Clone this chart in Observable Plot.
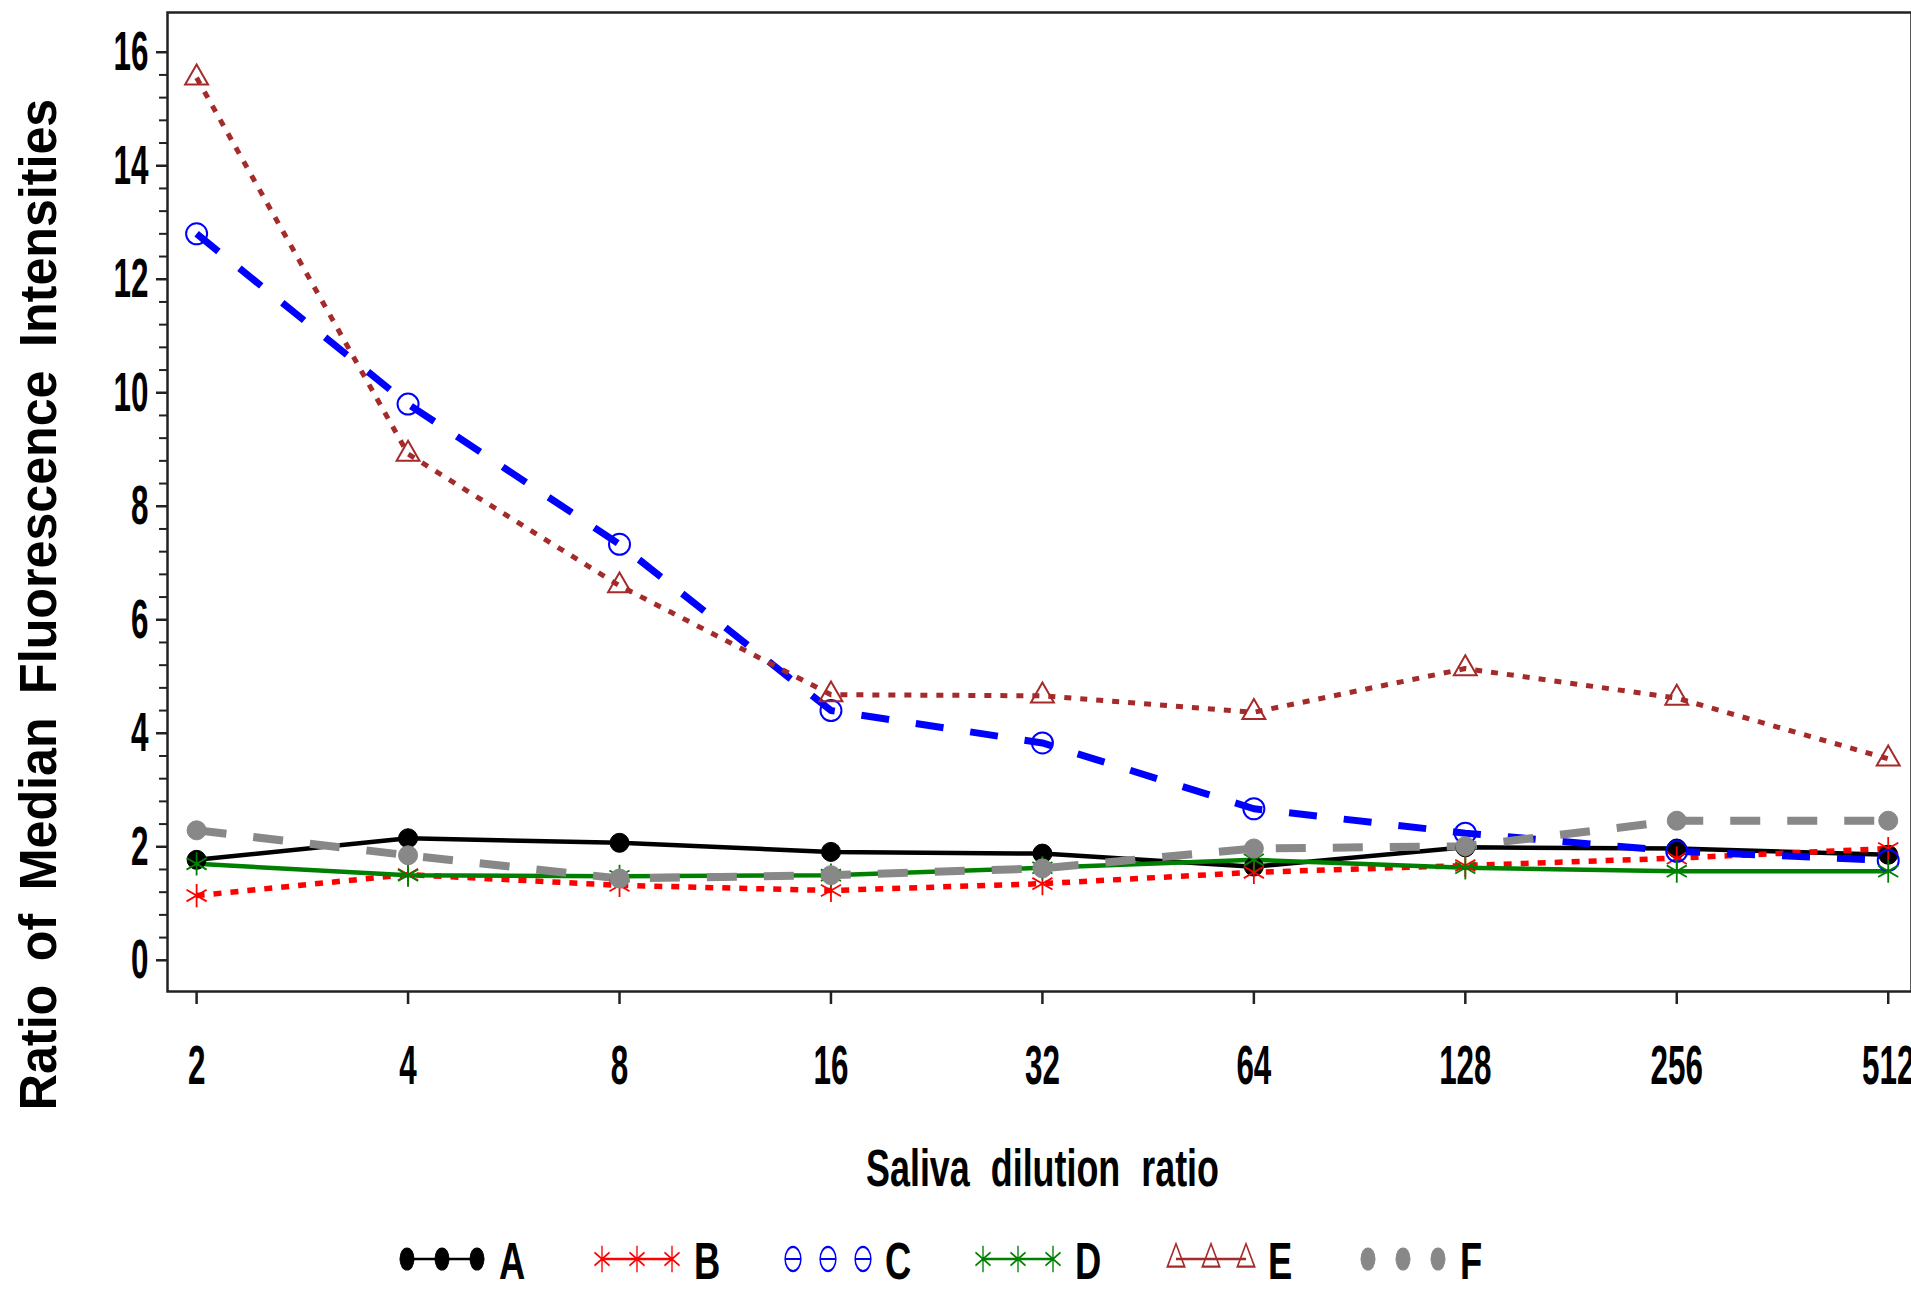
<!DOCTYPE html>
<html>
<head>
<meta charset="utf-8">
<script src="https://cdn.jsdelivr.net/npm/d3@7"></script>
<script src="https://cdn.jsdelivr.net/npm/@observablehq/plot@0.6"></script>
<style>
  html, body { margin: 0; padding: 0; background: #fff; }
  body { font-family: "Liberation Sans", Arial, sans-serif; width: 1911px; }
  #legend { width: 1911px; height: 60px; }
</style>
</head>
<body>
<div id="chart"></div>
<div id="legend"></div>
<script>
// ---- data ----
const dilutions = [2, 4, 8, 16, 32, 64, 128, 256, 512];
const seriesNames = ["A", "B", "C", "D", "E", "F"];
const valuesA = [1.77, 2.15, 2.07, 1.91, 1.88, 1.65, 1.99, 1.97, 1.86];
const valuesB = [1.14, 1.51, 1.32, 1.23, 1.35, 1.55, 1.67, 1.80, 1.97];
const valuesC = [12.80, 9.80, 7.33, 4.40, 3.83, 2.67, 2.24, 1.92, 1.76];
const valuesD = [1.70, 1.50, 1.48, 1.50, 1.63, 1.77, 1.63, 1.57, 1.57];
const valuesE = [15.55, 8.92, 6.60, 4.68, 4.66, 4.37, 5.14, 4.62, 3.55];
const valuesF = [2.29, 1.85, 1.44, 1.50, 1.62, 1.97, 2.01, 2.46, 2.46];
const yMajorTicks = [0, 2, 4, 6, 8, 10, 12, 14, 16];
const xTickLabels = ["2", "4", "8", "16", "32", "64", "128", "256", "512"];
const xTitle = "Saliva dilution ratio";
const yTitle = "Ratio of Median Fluorescence Intensities";

const seriesValues = [valuesA, valuesB, valuesC, valuesD, valuesE, valuesF];

// ---- styles ----
const styles = {
  A: {color: "#000000", dash: null,    width: 4.5, symbol: "circle",   filled: true,  r: 9.5, sw: 1},
  B: {color: "#ff0000", dash: "8,9",   width: 5.5, symbol: "asterisk", filled: false, r: 11,  sw: 1.8},
  C: {color: "#0000ff", dash: "28,27", width: 7,   symbol: "circle",   filled: false, r: 10.5, sw: 2},
  D: {color: "#008000", dash: null,    width: 4.5, symbol: "asterisk", filled: false, r: 11,  sw: 1.8},
  E: {color: "#a52a2a", dash: "7,9",   width: 5,   symbol: "triangle", filled: false, r: 8.5, sw: 2},
  F: {color: "#888888", dash: "30,27", width: 8,   symbol: "circle",   filled: true,  r: 9.5, sw: 1}
};

const rows = seriesNames.flatMap((s, si) =>
  dilutions.map((d, i) => ({series: s, dilution: d, ratio: seriesValues[si][i]}))
);

// minor y ticks every 0.4 between majors
const yMinorTicks = d3.range(0, 41).filter(k => k % 5 !== 0).map(k => +(k * 0.4).toFixed(2));

const font = "Liberation Sans, Arial, Helvetica, sans-serif";

const marks = [];
marks.push(Plot.frame({stroke: "#222", strokeWidth: 2.5}));
marks.push(Plot.axisY({ticks: yMinorTicks, tickSize: 8, tickFormat: () => "", strokeWidth: 2, stroke: "#222", label: null}));
marks.push(Plot.axisY({ticks: yMajorTicks, tickSize: 11, tickPadding: 8, tickFormat: d => String(d),
  strokeWidth: 2.5, stroke: "#222", fill: "#000", fontSize: 56, fontWeight: "bold", fontFamily: font, label: null}));
marks.push(Plot.axisX({ticks: dilutions, tickSize: 13, tickPadding: 40, tickFormat: d => xTickLabels[dilutions.indexOf(d)],
  strokeWidth: 2.5, stroke: "#222", fill: "#000", fontSize: 56, fontWeight: "bold", fontFamily: font, label: null}));

for (const s of seriesNames) {
  const st = styles[s];
  marks.push(Plot.line(rows.filter(r => r.series === s), {
    x: "dilution", y: "ratio", stroke: st.color, strokeWidth: st.width,
    strokeDasharray: st.dash || undefined, strokeLinecap: "butt", strokeLinejoin: "round"
  }));
}
for (const s of seriesNames) {
  const st = styles[s];
  marks.push(Plot.dot(rows.filter(r => r.series === s), {
    x: "dilution", y: "ratio", symbol: st.symbol, r: st.r,
    fill: st.filled ? st.color : "none", stroke: st.color, strokeWidth: st.sw
  }));
}
marks.push(Plot.text([xTitle], {text: d => d, frameAnchor: "bottom", textAnchor: "middle", dx: 3, dy: 177.5, lineAnchor: "middle",
  fontSize: 52, fontWeight: "bold", fontFamily: font, fill: "#000"}));
marks.push(Plot.text([yTitle], {text: d => d, frameAnchor: "left", textAnchor: "middle", rotate: -90, dx: -128.5, dy: 102.5, lineAnchor: "middle",
  fontSize: 52, fontWeight: "bold", fontFamily: font, fill: "#000"}));

const chart = Plot.plot({
  width: 1911,
  height: 1230,
  marginLeft: 167,
  marginRight: 0,
  marginTop: 12,
  marginBottom: 239,
  style: {background: "#fff", fontFamily: font, overflow: "visible"},
  x: {type: "log", base: 2, domain: [1.818, 552.6], axis: null},
  y: {domain: [-0.55, 16.7], axis: null},
  marks
});
document.getElementById("chart").appendChild(chart);

// condense text horizontally like the reference's narrow font
const yTickSet = new Set(yMajorTicks.map(String));
const xTickSet = new Set(xTickLabels);
chart.querySelectorAll("text").forEach(t => {
  const s = t.textContent;
  let sx = null;
  if (s === xTitle) { sx = 0.69; t.style.wordSpacing = "16px"; }
  else if (s === yTitle) { sx = 0.965; t.style.wordSpacing = "10px"; }
  else if (xTickSet.has(s) || yTickSet.has(s)) sx = 0.56;
  if (sx != null) t.setAttribute("transform", (t.getAttribute("transform") || "") + ` scale(${sx},1)`);
});

// ---- legend below the chart ----
const legendStarts = [407, 602, 793, 983, 1176, 1368];
const lg = d3.select("#legend").append("svg").attr("width", 1911).attr("height", 60).style("display", "block");
seriesNames.forEach((s, i) => {
  const st = styles[s];
  const x0 = legendStarts[i], x1 = x0 + 70, cy = 29;
  const g = lg.append("g");
  if (!st.dash || s === "B" || s === "E") {
    g.append("line").attr("x1", x0).attr("x2", x1).attr("y1", cy).attr("y2", cy)
      .attr("stroke", st.color).attr("stroke-width", 2.5);
  }
  if (s === "C") {
    [x0, (x0 + x1) / 2, x1].forEach(x => g.append("line").attr("x1", x - 8).attr("x2", x + 8)
      .attr("y1", cy).attr("y2", cy).attr("stroke", st.color).attr("stroke-width", 2));
  }
  const symType = st.symbol === "circle" ? d3.symbolCircle : st.symbol === "asterisk" ? d3.symbolAsterisk : d3.symbolTriangle;
  const path = d3.symbol(symType, Math.PI * st.r * st.r)();
  [x0, (x0 + x1) / 2, x1].forEach(x => {
    g.append("path").attr("d", path).attr("transform", `translate(${x},${cy}) scale(0.75,1.15)`)
      .attr("fill", st.filled ? st.color : "none")
      .attr("stroke", st.color).attr("stroke-width", st.sw);
  });
  g.append("text")
    .attr("transform", `translate(${x0 + 92},49) scale(0.7,1)`)
    .attr("font-family", font).attr("font-weight", "bold").attr("font-size", 52).attr("fill", "#000")
    .text(s);
});
</script>
</body>
</html>
